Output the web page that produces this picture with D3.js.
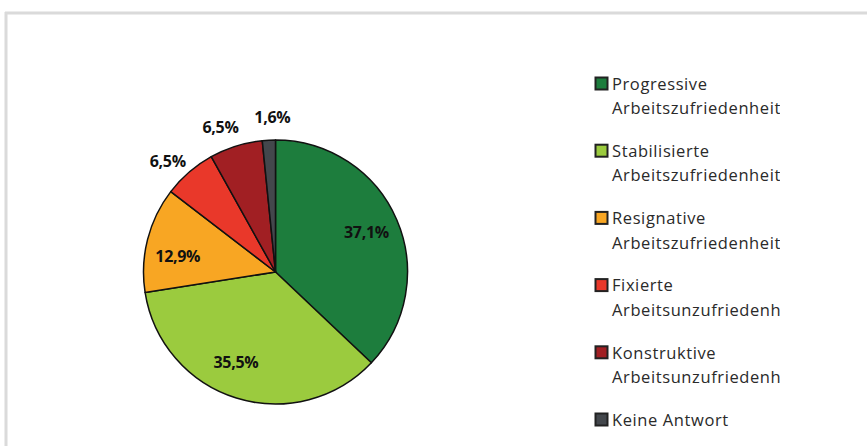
<!DOCTYPE html>
<html><head><meta charset="utf-8">
<script src="https://cdn.jsdelivr.net/npm/d3@7"></script>
<style>html,body{margin:0;padding:0;background:#fff;}svg{display:block;}</style>
</head><body>
<script>
const categories = ["Progressive Arbeitszufriedenheit","Stabilisierte Arbeitszufriedenheit","Resignative Arbeitszufriedenheit","Fixierte Arbeitsunzufriedenheit","Konstruktive Arbeitsunzufriedenheit","Keine Antwort"];
const legendLines = [["Progressive","Arbeitszufriedenheit"],["Stabilisierte","Arbeitszufriedenheit"],["Resignative","Arbeitszufriedenheit"],["Fixierte","Arbeitsunzufriedenheit"],["Konstruktive","Arbeitsunzufriedenheit"],["Keine Antwort"]];
const values = [37.1, 35.5, 12.9, 6.5, 6.5, 1.6];
const valueLabels = ["37,1%","35,5%","12,9%","6,5%","6,5%","1,6%"];
const colors = ["#1d7d3d","#9bcb3e","#f8a623","#e9382a","#a11f23","#43474c"];

const W = 867, H = 446;
const svg = d3.select("body").append("svg").attr("width", W).attr("height", H);

// frame
svg.append("line").attr("x1",5).attr("x2",W).attr("y1",13).attr("y2",13).attr("stroke","#dadada").attr("stroke-width",3);
svg.append("line").attr("x1",6).attr("x2",6).attr("y1",12).attr("y2",H).attr("stroke","#dadada").attr("stroke-width",3);

const cx = 275.5, cy = 272, r = 132;
const pie = d3.pie().sort(null).value(d => d);
const arcs = pie(values);
const arc = d3.arc().innerRadius(0).outerRadius(r);
const g = svg.append("g").attr("transform", `translate(${cx},${cy})`);
g.selectAll("path").data(arcs).enter().append("path")
  .attr("d", arc).attr("fill", (d,i) => colors[i])
  .attr("stroke", "#111").attr("stroke-width", 1.5).attr("stroke-linejoin","round");

// label placement: inner labels for large slices, outer for small ones
const angleShift = [0, 0.11, -0.09, -0.06, -0.06, 0.03];
const labelArc = (d, i) => {
  const big = d.data >= 10;
  const rr = big ? r*0.75 : r*1.17;
  const a = (d.startAngle + d.endAngle)/2 + angleShift[i];
  return [rr*Math.sin(a), -rr*Math.cos(a)];
};
g.selectAll("text.lbl").data(arcs).enter().append("text")
  .attr("class","lbl")
  .attr("transform", (d,i) => `translate(${labelArc(d,i)})`)
  .attr("text-anchor","middle").attr("dy","0.35em")
  .attr("font-family","'Open Sans', Lato, sans-serif").attr("font-weight","bold")
  .attr("font-size","16px").attr("letter-spacing","-0.3px").attr("fill","#111")
  .text((d,i) => valueLabels[i]);

// legend
svg.append("clipPath").attr("id","lc").append("rect").attr("x",580).attr("y",0).attr("width",200).attr("height",H);
const lg = svg.append("g").attr("clip-path","url(#lc)");
const yStart = 84, step = 67.2;
categories.forEach((c,i) => {
  const y = yStart + i*step;
  lg.append("rect").attr("x",595.5).attr("y",y-6.5).attr("width",12).attr("height",12)
    .attr("fill",colors[i]).attr("stroke","#222").attr("stroke-width",2);
  legendLines[i].forEach((t,j) => {
    lg.append("text").attr("x",612).attr("y",y + j*24.5).attr("dy","0.35em")
      .attr("font-family","'Open Sans', Lato, sans-serif").attr("font-size","16.5px")
      .attr("letter-spacing","0.6px")
      .attr("fill","#2a2a2a").text(t);
  });
});
</script>
</body></html>
